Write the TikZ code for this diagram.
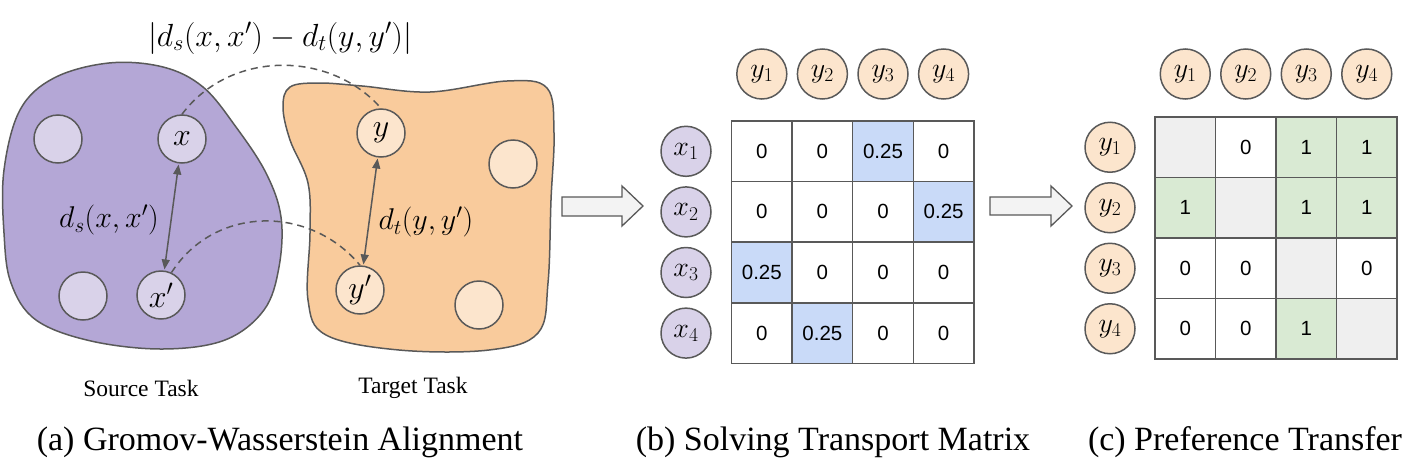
\RequirePackage{fix-cm}
\documentclass[tikz,border=0pt]{standalone}
\usepackage[no-math]{fontspec}
\setmainfont{Liberation Serif}
\newfontfamily\cellfont{Liberation Sans}
\newfontfamily\captfont{Liberation Serif}
\usetikzlibrary{arrows.meta}
\definecolor{edge}{HTML}{595959}
\definecolor{purpA}{HTML}{B4A7D6}
\definecolor{purpB}{HTML}{D9D2E9}
\definecolor{orA}{HTML}{F9CB9C}
\definecolor{orB}{HTML}{FCE5CD}
\definecolor{cblue}{HTML}{C9DAF8}
\definecolor{cgreen}{HTML}{D9EAD3}
\definecolor{cgrey}{HTML}{EFEFEF}
\definecolor{arrfill}{HTML}{F3F3F3}
\begin{document}
\begin{tikzpicture}[x=1pt,y=-1pt,
  dot/.style={circle,draw=edge,line width=1.5pt,minimum size=48pt,inner sep=0pt,font=\fontsize{32}{38}\selectfont},
  pdot/.style={dot,fill=purpB},
  odot/.style={dot,fill=orB},
  mdot/.style={dot,minimum size=50pt,font=\fontsize{28}{33}\selectfont},
  mpdot/.style={mdot,fill=purpB},
  modot/.style={mdot,fill=orB},
  cell/.style={rectangle,draw=edge,line width=1.5pt,minimum width=60.6pt,minimum height=60.6pt,inner sep=0pt,font=\cellfont\fontsize{20.5}{24}\selectfont},
  blob/.style={draw=edge,line width=1.5pt},
  dist/.style={{Triangle[length=10pt,width=8pt]}-{Triangle[length=10pt,width=8pt]},draw=edge,line width=1.5pt,shorten <=1pt,shorten >=1pt},
  link/.style={draw=edge,line width=1.5pt,dash pattern=on 7pt off 5pt},
  bigarrow/.style={draw=edge,line width=1.3pt,fill=arrfill,line join=miter},
  lbl/.style={font=\fontsize{30}{36}\selectfont},
  gwl/.style={font=\fontsize{32}{38}\selectfont},
  task/.style={font=\captfont\fontsize{23.5}{28}\selectfont},
  capt/.style={font=\captfont\fontsize{34}{40}\selectfont}
]
\useasboundingbox (0,0) rectangle (1412,474);

% ---- blobs
\path[blob,fill=purpA] plot[smooth cycle,tension=0.6] coordinates {(4,170) (20,110) (54,78) (109,63) (163,67) (203,87) (236,127) (266,173) (281,217) (279,267) (264,310) (225,340) (163,349) (91,341) (36,320) (11,283) (4,233)};
\path[blob,fill=orA] plot[smooth cycle,tension=0.6] coordinates {(290,87) (319,83) (362,86) (430,92) (507,81) (547,88) (554,133) (551,200) (548,283) (538,333) (489,350) (399,350) (326,335) (308,300) (310,233) (308,183) (290,140) (283,107)};

% ---- points
\node[pdot] (p1) at (58,139) {};
\node[pdot] (x) at (182,139) {$x$};
\node[pdot] (p2) at (83,296) {};
\node[pdot] (xp) at (161,295) {$x'$};
\node[odot] (y) at (381,133) {$y$};
\node[odot] (o1) at (513,164) {};
\node[odot] (yp) at (360,290) {$y'$};
\node[odot] (o2) at (479,305) {};

\draw[dist] (x) -- (xp);
\draw[dist] (y) -- (yp);
\draw[link] (x.north) .. controls (230,50) and (330,50) .. (y.north);
\draw[link] (xp.65) .. controls (215,205) and (310,205) .. (yp.north);

\node[lbl] (ds) at (109,220) {$d_s(x,x')$};
\node[lbl] (dt) at (426,222) {$d_t(y,y')$};
\node[gwl] (gw) at (280,38) {$\bigl|d_s(x,x')-d_t(y,y')\bigr|$};

\node[task] (src) at (141,388) {Source Task};
\node[task] (tgt) at (413,388) {Target Task};

% ---- block arrows
\path[bigarrow] (562,197) -- (622,197) -- (622,186) -- (643,206) -- (622,226) -- (622,216) -- (562,216) -- cycle;
\path[bigarrow] (990,197) -- (1051,197) -- (1051,186) -- (1072,206) -- (1051,226) -- (1051,215) -- (990,215) -- cycle;

% ---- transport matrix
\foreach \j in {1,...,4} {
  \node[modot] (by\j) at ({731.5+60.6*(\j-0.5)},74) {$y_{\j}$};
  \node[mpdot] (bx\j) at (686,{121+60.6*(\j-0.5)}) {$x_{\j}$};
}
\foreach \rr/\cc/\vv/\ff in {
  1/1/0/white,1/2/0/white,1/3/0.25/cblue,1/4/0/white,
  2/1/0/white,2/2/0/white,2/3/0/white,2/4/0.25/cblue,
  3/1/0.25/cblue,3/2/0/white,3/3/0/white,3/4/0/white,
  4/1/0/white,4/2/0.25/cblue,4/3/0/white,4/4/0/white} {
  \node[cell,fill=\ff] (b\rr\cc) at ({731.5+60.6*(\cc-0.5)},{121+60.6*(\rr-0.5)}) {\vv};
}

% ---- preference matrix
\foreach \j in {1,...,4} {
  \node[modot] (cy\j) at ({1155+60.5*(\j-0.5)},74) {$y_{\j}$};
  \node[modot] (cr\j) at (1110,{117+60.5*(\j-0.5)}) {$y_{\j}$};
}
\foreach \rr/\cc/\vv/\ff in {
  1/1//cgrey,1/2/0/white,1/3/1/cgreen,1/4/1/cgreen,
  2/1/1/cgreen,2/2//cgrey,2/3/1/cgreen,2/4/1/cgreen,
  3/1/0/white,3/2/0/white,3/3//cgrey,3/4/0/white,
  4/1/0/white,4/2/0/white,4/3/1/cgreen,4/4//cgrey} {
  \node[cell,fill=\ff] (c\rr\cc) at ({1155+60.5*(\cc-0.5)},{117+60.5*(\rr-0.5)}) {\vv};
}

% ---- captions
\node[capt] (capa) at (280,442) {(a) Gromov-Wasserstein Alignment};
\node[capt] (capb) at (833,442) {(b) Solving Transport Matrix};
\node[capt] (capc) at (1245,442) {(c) Preference Transfer};
\end{tikzpicture}
\end{document}
